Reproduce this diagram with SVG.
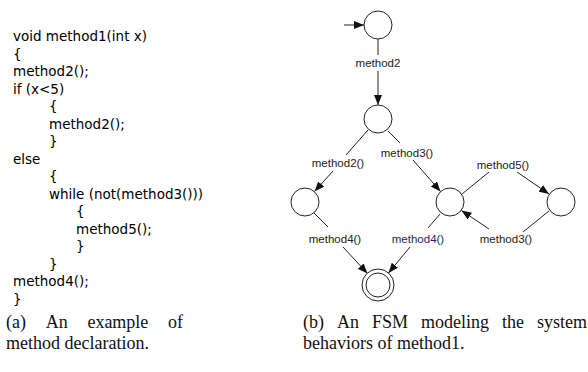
<svg xmlns="http://www.w3.org/2000/svg" width="588" height="372" viewBox="0 0 588 372">
<defs>
<style>
.code{font-family:"DejaVu Sans","Liberation Sans",sans-serif;font-size:13.5px;fill:#000}
.cap{font-family:"Liberation Serif","Times New Roman",serif;font-size:18px;fill:#111}
.lbl{font-family:"Liberation Sans",Arial,sans-serif;font-size:11.5px;fill:#222;text-anchor:middle}
.st{fill:#fff;stroke:#222;stroke-width:1}
.edge{fill:none;stroke:#222;stroke-width:1;marker-end:url(#arr)}
</style>
<marker id="arr" markerUnits="userSpaceOnUse" markerWidth="10" markerHeight="8" refX="10" refY="4" orient="auto">
<path d="M0,0 L10,4 L0,8 z" fill="#111"/>
</marker>
</defs>
<rect width="588" height="372" fill="#fff"/>
<g id="code">
<text class="code" x="13" y="41">void method1(int x)</text>
<text class="code" x="13" y="58.5">{</text>
<text class="code" x="13" y="76">method2();</text>
<text class="code" x="13" y="93.5">if (x&lt;5)</text>
<text class="code" x="49" y="111">{</text>
<text class="code" x="49" y="128.5">method2();</text>
<text class="code" x="49" y="146">}</text>
<text class="code" x="13" y="163.5">else</text>
<text class="code" x="49" y="181">{</text>
<text class="code" x="49" y="198.5">while (not(method3()))</text>
<text class="code" x="76" y="216">{</text>
<text class="code" x="76" y="233.5">method5();</text>
<text class="code" x="76" y="251">}</text>
<text class="code" x="49" y="268.5">}</text>
<text class="code" x="13" y="286">method4();</text>
<text class="code" x="13" y="303.5">}</text>
</g>
<g id="connectors">
<path class="edge" d="M344,25 L364,25"/>
<path class="edge" d="M378,39 L378,55 M378,71 L378,105"/>
<path class="edge" d="M368,130 L346,155 M333,171 L314.5,191.5"/>
<path class="edge" d="M388,131 L400,143 M413,160 L440.5,191.5"/>
<path class="edge" d="M462,194 L489,172 M517,172 L549,194"/>
<path class="edge" d="M549,211 L523,232 M489,229 L461.5,210.5"/>
<path class="edge" d="M314,213 L328,227 M343,247 L367.5,273.5"/>
<path class="edge" d="M440,214 L428,228 M410,247 L388.5,273"/>
<text class="lbl" x="378" y="67">method2</text>
<text class="lbl" x="338" y="167">method2()</text>
<text class="lbl" x="407" y="157">method3()</text>
<text class="lbl" x="503" y="169">method5()</text>
<text class="lbl" x="506" y="243">method3()</text>
<text class="lbl" x="335" y="243">method4()</text>
<text class="lbl" x="418" y="243" style="fill:#1c2a5c">method4()</text>
</g>
<g id="s0"><circle class="st" cx="378" cy="25" r="14"/></g>
<g id="s1"><circle class="st" cx="378" cy="119" r="14"/></g>
<g id="s2"><circle class="st" cx="305" cy="202" r="14"/></g>
<g id="s3"><circle class="st" cx="450" cy="202" r="14"/></g>
<g id="s4"><circle class="st" cx="561" cy="202" r="14"/></g>
<g id="final"><circle class="st" cx="378" cy="285" r="16"/><circle class="st" cx="378" cy="285" r="12"/></g>
<g id="captions">
<text class="cap" y="328"><tspan x="6">(a)</tspan><tspan x="45.7">An</tspan><tspan x="87.4">example</tspan><tspan x="168">of</tspan></text>
<text class="cap" x="6" y="349">method declaration.</text>
<text class="cap" y="328"><tspan x="303">(b)</tspan><tspan x="337">An</tspan><tspan x="372">FSM</tspan><tspan x="421">modeling</tspan><tspan x="502">the</tspan><tspan x="537">system</tspan></text>
<text class="cap" x="303" y="349">behaviors of method1.</text>
</g>
</svg>
